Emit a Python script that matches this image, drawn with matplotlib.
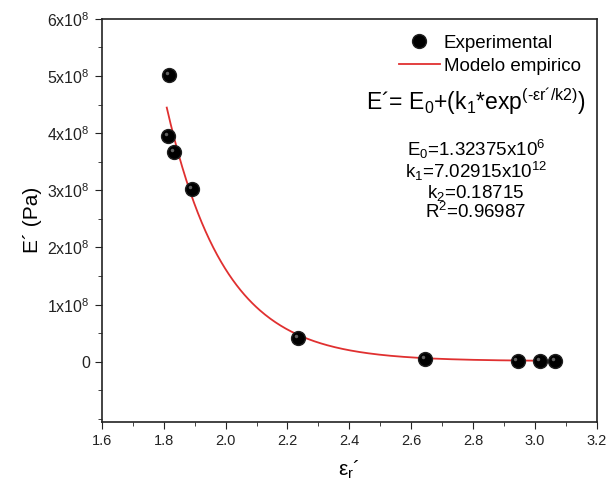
import numpy as np
import matplotlib.pyplot as plt
from matplotlib.ticker import MultipleLocator, FixedLocator
import matplotlib.transforms as mtransforms

plt.rcParams['font.family'] = ['Liberation Sans', 'DejaVu Sans']
plt.rcParams['mathtext.fontset'] = 'custom'
plt.rcParams['mathtext.rm'] = 'Liberation Sans'
plt.rcParams['mathtext.it'] = 'Liberation Sans'

# experimental points
eps_r = [1.817, 1.814, 1.833, 1.891, 2.234, 2.645, 2.943, 3.017, 3.063]
e_mod = [5.02e8, 3.95e8, 3.67e8, 3.02e8, 0.42e8, 0.05e8, 0.02e8, 0.02e8, 0.02e8]

# fitted parameters
E0 = 1.32375e6
k1 = 7.02915e12
k2 = 0.18715

yticks = [0, 1e8, 2e8, 3e8, 4e8, 5e8, 6e8]
ylabels = ['0', '1x10$^8$', '2x10$^8$', '3x10$^8$', '4x10$^8$', '5x10$^8$', '6x10$^8$']

x_fit = np.linspace(1.81, 3.06, 300)
y_fit = E0 + k1 * np.exp(-x_fit / k2)

fig = plt.figure(figsize=(6.13, 4.8), dpi=100)
ax = fig.add_axes([0.166, 0.121, 0.808, 0.84])

ax.plot(x_fit, y_fit, color='#e03030', lw=1.3, label='Modelo empirico', zorder=2)
ax.plot(eps_r, e_mod, 'o', color='black', mec='#202020', ms=10,
        label='Experimental', zorder=3)
# little shine on the spheres
shine = mtransforms.offset_copy(ax.transData, fig=fig, x=-1.5, y=1.5, units='points')
ax.plot(eps_r, e_mod, 'o', color='#8a8a8a', ms=2.5, mew=0, alpha=0.7,
        transform=shine, zorder=4)

ax.set_xlim(1.6, 3.2)
ax.set_ylim(-1.05e8, 6e8)
ax.xaxis.set_major_locator(MultipleLocator(0.2))
ax.xaxis.set_minor_locator(MultipleLocator(0.1))
ax.yaxis.set_major_locator(FixedLocator(yticks))
ax.yaxis.set_minor_locator(MultipleLocator(0.5e8))
ax.set_yticklabels(ylabels)
ax.tick_params(which='both', direction='out', top=False, right=False,
               labelsize=10.5, color='#222222', labelcolor='#222222')
ax.tick_params(axis='y', labelsize=11.5)
ax.tick_params(which='major', length=5)
ax.tick_params(which='minor', length=3)
for s in ax.spines.values():
    s.set_linewidth(1.2)
    s.set_color('#222222')

ax.set_xlabel('ε$_r$´', fontsize=15, labelpad=8)
ax.set_ylabel('E´ (Pa)', fontsize=15, labelpad=4)

handles, labels = ax.get_legend_handles_labels()
ax.legend([handles[1], handles[0]], [labels[1], labels[0]], loc='upper right',
          frameon=False, fontsize=13.5, bbox_to_anchor=(0.995, 0.995),
          handlelength=2.2, handletextpad=0.2, borderpad=0.25, labelspacing=0.3)

ax.text(0.755, 0.795, 'E´= E$_0$+(k$_1$*exp$^{(\u2010εr´/k2)}$)', transform=ax.transAxes,
        ha='center', va='center', fontsize=16.5)
ax.text(0.755, 0.6,
        'E$_0$=1.32375x10$^6$\nk$_1$=7.02915x10$^{12}$\nk$_2$=0.18715\nR$^2$=0.96987',
        transform=ax.transAxes, ha='center', va='center', fontsize=13.5,
        linespacing=0.95)

plt.savefig('out.png', dpi=100)
